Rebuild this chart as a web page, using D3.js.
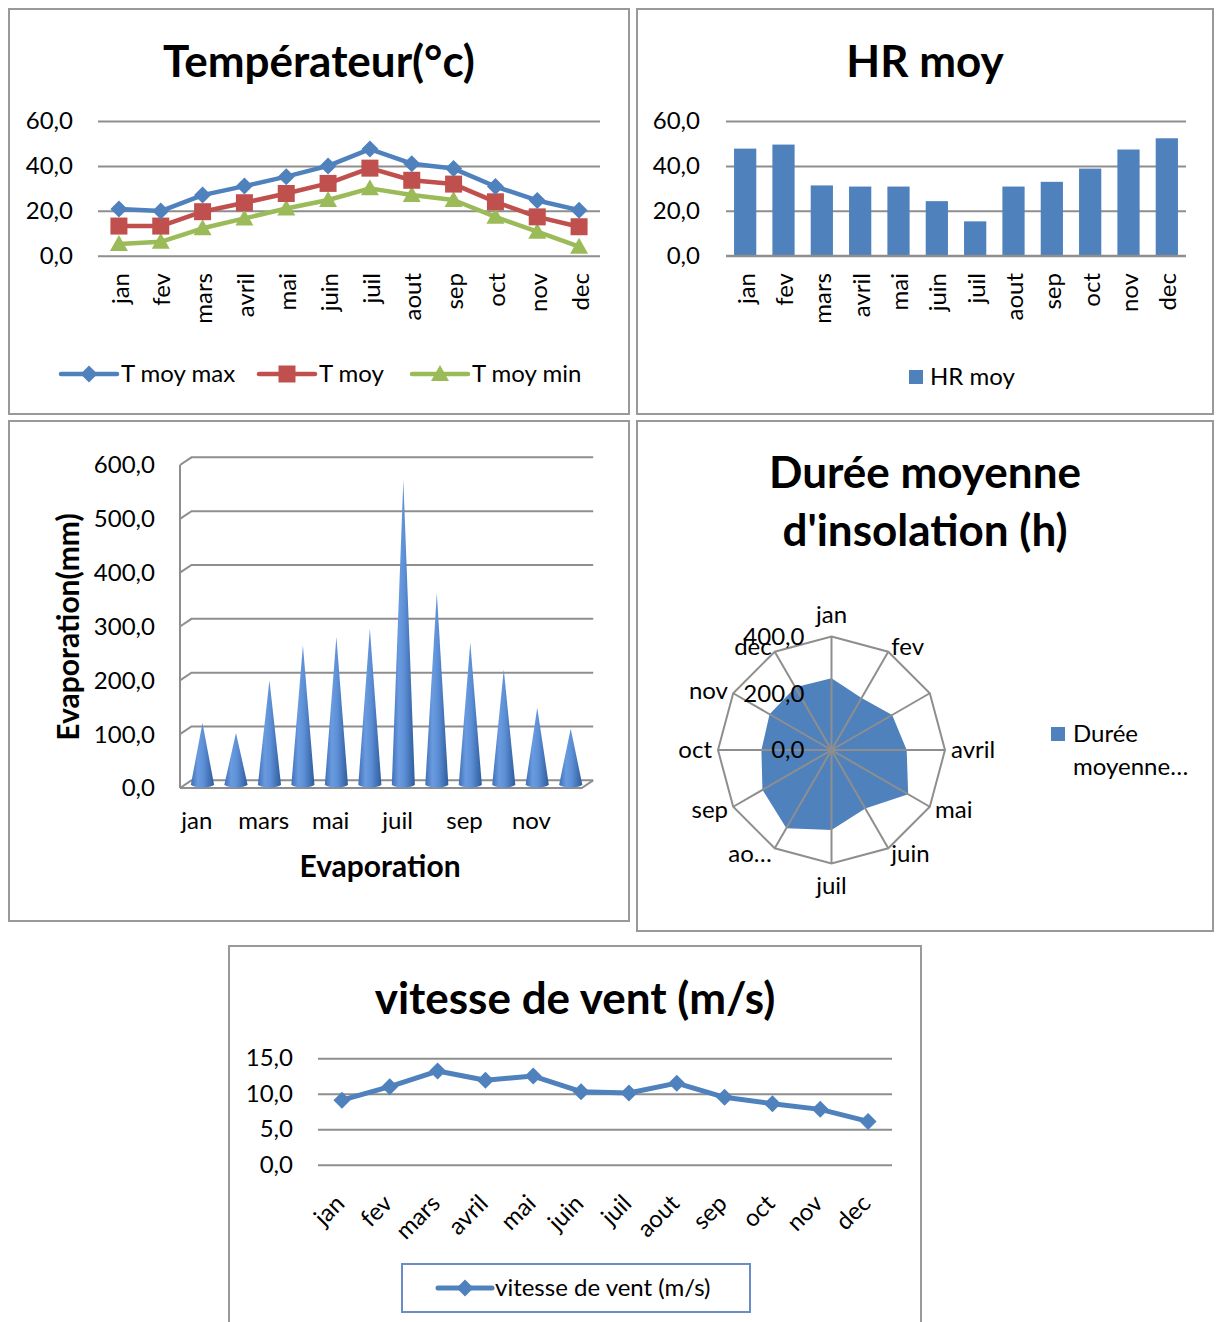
<!DOCTYPE html>
<html><head><meta charset="utf-8">
<script src="https://cdn.jsdelivr.net/npm/d3@7/dist/d3.min.js"></script>
<style>
body{margin:0;background:#fff;}
svg{display:block;font-family:Lato,"Open Sans",sans-serif;}
</style></head><body>
<svg id="c" width="1221" height="1322"></svg>
<script>
// ---- data ----
const months = ["jan","fev","mars","avril","mai","juin","juil","aout","sep","oct","nov","dec"];
const tMoyMax = [20.8,19.9,27.0,31.0,35.2,40.0,47.5,41.0,38.8,30.8,24.6,20.3];
const tMoy    = [13.2,13.2,19.6,23.6,27.7,32.2,39.0,33.6,31.9,24.0,17.3,12.9];
const tMoyMin = [5.2,6.2,12.2,16.6,21.0,24.8,30.0,27.0,24.8,17.3,10.7,4.0];
const hrMoy   = [47.7,49.5,31.3,30.8,30.8,24.3,15.3,30.8,32.9,38.8,47.3,52.3];
const evaporation = [114,95,193,258,274,289,565,356,263,213,142,103];
const insolation  = [253,212,247,265,312,238,282,318,281,247,252,255];
const vent    = [9.1,11.0,13.2,11.9,12.5,10.3,10.1,11.5,9.5,8.6,7.8,6.1];
const tempTicks  = [0,20,40,60];
const hrTicks    = [0,20,40,60];
const evapTicks  = [0,100,200,300,400,500,600];
const radarTicks = [0,200,400];
const ventTicks  = [0,5,10,15];
const radarLabels = ["jan","fev","","avril","mai","juin","juil","ao…","sep","oct","nov","dec"];

const BLUE="#4f81bd", RED="#c0504d", GREEN="#9bbb59", GRID="#8e8e8e";
const FS = 24, TITLE = 44;
const fmt = d3.formatLocale({decimal:",",thousands:" ",grouping:[3],currency:["","€"]}).format(".1f");
const svg = d3.select("#c");

// ---- panel frames ----
[[9,9,620,405],[637,9,576,405],[9,421,620,500],[637,421,576,510],[229,946,692,420]].forEach(p=>{
  svg.append("rect").attr("x",p[0]).attr("y",p[1]).attr("width",p[2]).attr("height",p[3])
    .attr("fill","#fff").attr("stroke","#999").attr("stroke-width",2);
});

function title(x,y,lines,size,lead){
  const t = svg.append("text").attr("x",x).attr("y",y).attr("text-anchor","middle")
    .attr("font-weight","bold").attr("font-size",size).attr("fill","#000");
  lines.forEach((l,i)=>t.append("tspan").attr("x",x).attr("dy",i?lead:0).text(l));
}

function gridAxis(g, y, ticks, width, pad){
  const ax = g.append("g").call(d3.axisLeft(y).tickValues(ticks).tickSize(-width).tickPadding(pad).tickFormat(fmt));
  ax.select(".domain").remove();
  ax.selectAll("line").attr("stroke",GRID).attr("stroke-width",2);
  ax.selectAll("text").attr("font-size",FS).attr("fill","#000").attr("font-family","Lato");
  return ax;
}

function verticalLabels(g, x, top){
  months.forEach(m=>{
    g.append("text").attr("transform",`translate(${x(m)+1},${top}) rotate(-90)`)
      .attr("text-anchor","end").attr("dy","0.36em").attr("font-size",FS).text(m);
  });
}

function marker(g, type, cx, cy, color){
  if(type==="diamond"){
    g.append("path").attr("d",`M${cx},${cy-8.5}L${cx+8.5},${cy}L${cx},${cy+8.5}L${cx-8.5},${cy}Z`).attr("fill",color);
  } else if(type==="square"){
    g.append("rect").attr("x",cx-8.5).attr("y",cy-8.5).attr("width",17).attr("height",17).attr("fill",color);
  } else {
    g.append("path").attr("d",`M${cx},${cy-9}L${cx+9},${cy+7}L${cx-9},${cy+7}Z`).attr("fill",color);
  }
}

// ---- 1. Températeur ----
{
  title(319,77,["Températeur(°c)"],TITLE);
  const g = svg.append("g");
  const x = d3.scaleBand().domain(months).range([98,600]);
  const y = d3.scaleLinear().domain([0,60]).range([255.7,121]);
  gridAxis(g.append("g").attr("transform","translate(98,0)"), y, tempTicks, 502, 25);
  verticalLabels(g, d=>x(d)+x.bandwidth()/2, 273);
  const series = [[tMoyMax,BLUE,"diamond","T moy max"],[tMoy,RED,"square","T moy"],[tMoyMin,GREEN,"triangle","T moy min"]];
  const line = d3.line().x((d,i)=>x(months[i])+x.bandwidth()/2).y(d=>y(d));
  series.slice().reverse().forEach(([vals,col,mk])=>{
    g.append("path").attr("d",line(vals)).attr("fill","none").attr("stroke",col).attr("stroke-width",4.5).attr("stroke-linejoin","round");
    vals.forEach((v,i)=>marker(g,mk,x(months[i])+x.bandwidth()/2,y(v),col));
  });
  // legend
  const lx=[61,259,412];
  series.forEach(([vals,col,mk,name],i)=>{
    g.append("line").attr("x1",lx[i]).attr("x2",lx[i]+56).attr("y1",374).attr("y2",374).attr("stroke",col).attr("stroke-width",4.5).attr("stroke-linecap","round");
    marker(g,mk,lx[i]+28,374,col);
    g.append("text").attr("x",lx[i]+60).attr("y",374).attr("dy","0.35em").attr("font-size",FS).text(name);
  });
}

// ---- 2. HR moy ----
{
  title(925,77,["HR moy"],TITLE);
  const g = svg.append("g");
  const x = d3.scaleBand().domain(months).range([726,1186]).paddingInner(0.42).paddingOuter(0.21);
  const y = d3.scaleLinear().domain([0,60]).range([255.7,121]);
  gridAxis(g.append("g").attr("transform","translate(726,0)"), y, hrTicks, 460, 26);
  g.selectAll("rect.bar").data(hrMoy).enter().append("rect").attr("class","bar")
    .attr("x",(d,i)=>x(months[i])).attr("width",x.bandwidth())
    .attr("y",d=>y(d)).attr("height",d=>y(0)-y(d)).attr("fill",BLUE);
  g.append("line").attr("x1",726).attr("x2",1186).attr("y1",y(0)).attr("y2",y(0)).attr("stroke",GRID).attr("stroke-width",2);
  verticalLabels(g, d=>x(d)+x.bandwidth()/2, 273);
  g.append("rect").attr("x",909).attr("y",370).attr("width",14).attr("height",14).attr("fill",BLUE);
  g.append("text").attr("x",930).attr("y",377).attr("dy","0.35em").attr("font-size",FS).text("HR moy");
}

// ---- 3. Evaporation (3D cones) ----
{
  const g = svg.append("g");
  const x0 = 180, x1 = 581.7, dx = 11.5, dy = -7.7;
  const x = d3.scaleBand().domain(months).range([x0,x1]);
  const y = d3.scaleLinear().domain([0,600]).range([788,465]);
  const defs = svg.append("defs");
  const grad = defs.append("linearGradient").attr("id","cone").attr("x1","0").attr("x2","1").attr("y1","0").attr("y2","0");
  [["0%","#3f70b8"],["30%","#6a9be0"],["55%","#5d8fd6"],["100%","#2e5c9c"]].forEach(s=>grad.append("stop").attr("offset",s[0]).attr("stop-color",s[1]));
  // back wall gridlines + side wall edges
  evapTicks.forEach(t=>{
    g.append("path").attr("d",`M${x0},${y(t)}L${x0+dx},${y(t)+dy}L${x1+dx},${y(t)+dy}`)
      .attr("fill","none").attr("stroke",GRID).attr("stroke-width",2);
  });
  g.append("line").attr("x1",x0).attr("x2",x0).attr("y1",y(600)).attr("y2",y(0)).attr("stroke",GRID).attr("stroke-width",2);
  g.append("path").attr("d",`M${x0},${y(0)}L${x1},${y(0)}L${x1+dx},${y(0)+dy}`).attr("fill","none").attr("stroke",GRID).attr("stroke-width",2);
  // y ticks
  evapTicks.forEach(t=>{
    g.append("text").attr("x",x0-25).attr("y",y(t)).attr("dy","0.35em").attr("text-anchor","end").attr("font-size",FS).text(fmt(t));
  });
  // cones, standing at mid-depth
  const rx = 11.5, ry = 3.5;
  evaporation.forEach((v,i)=>{
    const cx = x(months[i]) + x.bandwidth()/2 + dx/2;
    const by = y(0) + dy/2, ty = y(v) + dy/2;
    g.append("path").attr("d",`M${cx-rx},${by}L${cx},${ty}L${cx+rx},${by}A${rx},${ry} 0 0 1 ${cx-rx},${by}Z`)
      .attr("fill","url(#cone)");
  });
  months.forEach((m,i)=>{
    if(i%2===0) g.append("text").attr("x",x(m)+x.bandwidth()/2).attr("y",821).attr("dy","0.35em")
      .attr("text-anchor","middle").attr("font-size",FS).text(m);
  });
  g.append("text").attr("x",380).attr("y",866).attr("dy","0.35em").attr("text-anchor","middle")
    .attr("font-weight","bold").attr("font-size",30).text("Evaporation");
  g.append("text").attr("transform","translate(68,627) rotate(-90)").attr("dy","0.35em").attr("text-anchor","middle")
    .attr("font-weight","bold").attr("font-size",30).text("Evaporation(mm)");
}

// ---- 4. Durée moyenne d'insolation (radar) ----
{
  title(925,488,["Durée moyenne","d'insolation (h)"],TITLE,58);
  const g = svg.append("g").attr("transform","translate(831.5,750)");
  const r = d3.scaleLinear().domain([0,400]).range([0,113.5]);
  const ang = i => i*2*Math.PI/12;
  const area = d3.lineRadial().angle((d,i)=>ang(i)).radius(d=>r(d)).curve(d3.curveLinearClosed);
  g.append("path").attr("d",area(insolation)).attr("fill",BLUE);
  months.forEach((m,i)=>{
    const a = ang(i);
    g.append("line").attr("x1",0).attr("y1",0).attr("x2",r(400)*Math.sin(a)).attr("y2",-r(400)*Math.cos(a)).attr("stroke",GRID).attr("stroke-width",2);
  });
  g.append("path").attr("d",area(months.map(()=>400))).attr("fill","none").attr("stroke",GRID).attr("stroke-width",2);
  radarLabels.forEach((lab,i)=>{
    const a = ang(i), s = Math.sin(a), c = Math.cos(a);
    const gap = Math.abs(s)<0.1 ? 22 : 6;
    const px = (r(400)+gap)*s, py = -(r(400)+gap)*c;
    g.append("text").attr("x",px).attr("y",py).attr("dy","0.35em")
      .attr("text-anchor", s>0.1?"start":(s<-0.1?"end":"middle")).attr("font-size",FS).text(lab);
  });
  radarTicks.forEach(t=>{
    g.append("text").attr("x",-27).attr("y",-r(t)).attr("dy","0.35em").attr("text-anchor","end").attr("font-size",FS).text(fmt(t));
  });
  svg.append("rect").attr("x",1051).attr("y",727).attr("width",14).attr("height",14).attr("fill",BLUE);
  const lt = svg.append("text").attr("x",1073).attr("y",734).attr("dy","0.35em").attr("font-size",FS);
  lt.append("tspan").attr("x",1073).text("Durée");
  lt.append("tspan").attr("x",1073).attr("dy",33).text("moyenne…");
}

// ---- 5. vitesse de vent ----
{
  title(575,1014,["vitesse de vent (m/s)"],TITLE);
  const g = svg.append("g");
  const x = d3.scaleBand().domain(months).range([318,892]);
  const y = d3.scaleLinear().domain([0,15]).range([1164.7,1058.3]);
  gridAxis(g.append("g").attr("transform","translate(318,0)"), y, ventTicks, 574, 25);
  const cx = m => x(m)+x.bandwidth()/2;
  g.append("path").attr("d",d3.line().x((d,i)=>cx(months[i])).y(d=>y(d))(vent))
    .attr("fill","none").attr("stroke",BLUE).attr("stroke-width",5).attr("stroke-linejoin","round");
  vent.forEach((v,i)=>marker(g,"diamond",cx(months[i]),y(v),BLUE));
  months.forEach(m=>{
    g.append("text").attr("transform",`translate(${cx(m)+4},1205) rotate(-45)`).attr("text-anchor","end").attr("font-size",FS).text(m);
  });
  g.append("rect").attr("x",402).attr("y",1264).attr("width",348).attr("height",48).attr("fill","none").attr("stroke","#6a8cc9").attr("stroke-width",2);
  g.append("line").attr("x1",438).attr("x2",492).attr("y1",1288).attr("y2",1288).attr("stroke",BLUE).attr("stroke-width",5).attr("stroke-linecap","round");
  marker(g,"diamond",465,1288,BLUE);
  g.append("text").attr("x",495).attr("y",1288).attr("dy","0.35em").attr("font-size",FS).text("vitesse de vent (m/s)");
}
</script>
</body></html>
